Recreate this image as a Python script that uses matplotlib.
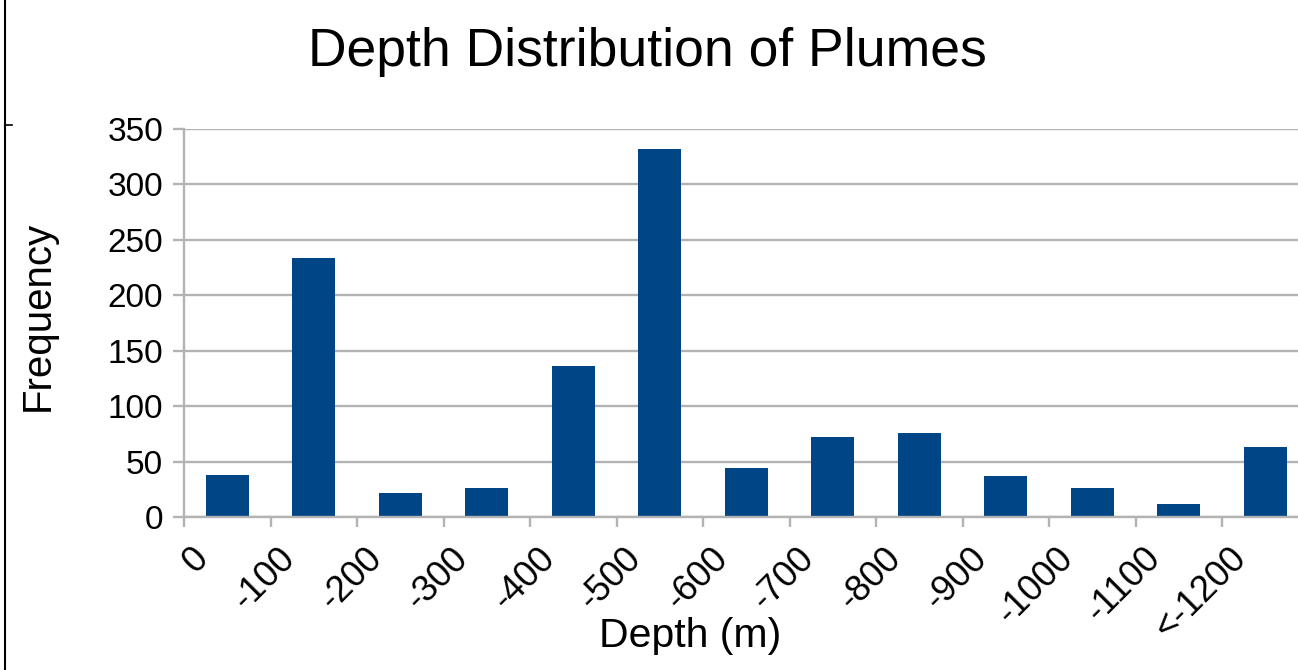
import matplotlib.pyplot as plt
import numpy as np
from matplotlib.lines import Line2D
from matplotlib.transforms import ScaledTranslation
from matplotlib import rcParams

rcParams["font.family"] = ["Liberation Sans", "DejaVu Sans"]

# depth bins (labels sit on the bin edges) and counts per bin
edge_labels = ["0", "-100", "-200", "-300", "-400", "-500", "-600",
               "-700", "-800", "-900", "-1000", "-1100", "<-1200"]
counts = [38, 234, 22, 26, 136, 332, 44, 72, 76, 37, 26, 12, 63]

bar_color = "#004586"
grid_color = "#b3b3b3"

fig = plt.figure(figsize=(12.98, 6.70), dpi=100)
ax = fig.add_axes([184 / 1298, 153 / 670, 1 - 184 / 1298, (517 - 129) / 670])

x = np.arange(len(counts))
ax.bar(x, counts, width=0.5, color=bar_color, zorder=3)

ax.set_ylim(0, 350)
ax.set_yticks(np.arange(0, 351, 50))
ax.set_xlim(-0.5, -0.5 + (1298 - 184) / 86.5)
ax.set_xticks(np.arange(len(edge_labels)) - 0.5)
ax.set_xticklabels(edge_labels)

ax.yaxis.grid(True, color=grid_color, linewidth=1.7, zorder=0)
ax.spines["top"].set_visible(False)
ax.spines["right"].set_visible(False)
for s in ["left", "bottom"]:
    ax.spines[s].set_color(grid_color)
    ax.spines[s].set_linewidth(1.7)
    ax.spines[s].set_zorder(4)

ax.tick_params(axis="y", length=8, width=1.7, color=grid_color, pad=7,
               labelsize=24, labelcolor="black")
ax.tick_params(axis="x", length=7, width=1.7, color=grid_color, pad=10,
               labelsize=26, labelcolor="black")
shift = ScaledTranslation(7 / 100, 0, fig.dpi_scale_trans)
for lab in ax.get_xticklabels():
    lab.set_rotation(45)
    lab.set_ha("right")
    lab.set_va("top")
    lab.set_rotation_mode("anchor")
    lab.set_transform(lab.get_transform() + shift)

fig.text(647 / 1298, 1 - 66 / 670, "Depth Distribution of Plumes",
         fontsize=38.5, ha="center", va="baseline")
fig.text(690 / 1298, 1 - 647 / 670, "Depth (m)", fontsize=29.5,
         ha="center", va="baseline")
fig.text(38 / 1298, 1 - 316 / 670, "Frequency", fontsize=29,
         ha="center", va="center", rotation=90)

# edge of the screenshot on the left
fig.add_artist(Line2D([5 / 1298, 5 / 1298], [0, 1], color="black", linewidth=1.5))
fig.add_artist(Line2D([5 / 1298, 12 / 1298], [1 - 125 / 670, 1 - 125 / 670],
                      color="black", linewidth=1.2))

plt.savefig("out.png", dpi=100)
